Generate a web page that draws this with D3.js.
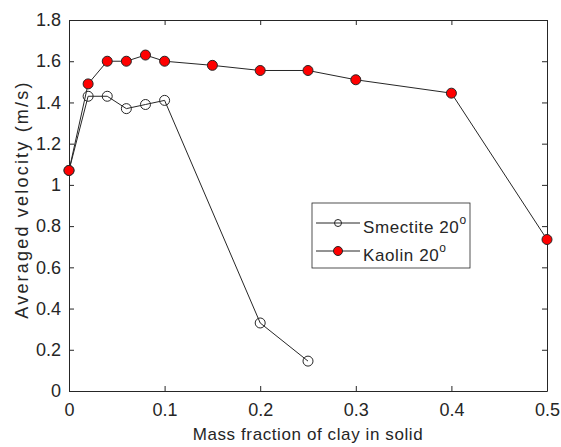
<!DOCTYPE html>
<html>
<head>
<meta charset="utf-8">
<script src="https://cdn.jsdelivr.net/npm/d3@7"></script>
<style>
  body { margin: 0; background: #fff; }
  text { font-family: "Liberation Sans", Arial, sans-serif; fill: #262626; }
</style>
</head>
<body>
<div id="chart"></div>
<script>
// data
const smectiteX = [0, 0.02, 0.04, 0.06, 0.08, 0.1, 0.2, 0.25];
const smectiteY = [1.07, 1.43, 1.43, 1.37, 1.39, 1.41, 0.33, 0.145];
const kaolinX = [0, 0.02, 0.04, 0.06, 0.08, 0.1, 0.15, 0.2, 0.25, 0.3, 0.4, 0.5];
const kaolinY = [1.07, 1.49, 1.60, 1.60, 1.63, 1.60, 1.58, 1.555, 1.555, 1.51, 1.445, 0.735];
const xTicks = [0, 0.1, 0.2, 0.3, 0.4, 0.5];
const yTicks = [0, 0.2, 0.4, 0.6, 0.8, 1, 1.2, 1.4, 1.6, 1.8];

const W = 561, H = 447;
const margin = {top: 20, right: 14, bottom: 56, left: 69};
const width = W - margin.left - margin.right;
const height = H - margin.top - margin.bottom;

const svg = d3.select("#chart").append("svg")
    .attr("width", W)
    .attr("height", H);

const g = svg.append("g")
    .attr("transform", `translate(${margin.left},${margin.top})`);

const x = d3.scaleLinear().domain([0, 0.5]).range([0, width]);
const y = d3.scaleLinear().domain([0, 1.8]).range([height, 0]);

const fmt = d => String(+d.toFixed(1));

// axes, ticks pointing inward like matlab
g.append("g")
    .attr("class", "x-axis")
    .attr("transform", `translate(0,${height})`)
    .call(d3.axisBottom(x).tickValues(xTicks).tickSizeInner(-5).tickSizeOuter(0).tickPadding(12).tickFormat(fmt));
g.append("g")
    .call(d3.axisTop(x).tickValues(xTicks).tickSizeInner(-5).tickSizeOuter(0).tickFormat(""));
g.append("g")
    .attr("class", "y-axis")
    .call(d3.axisLeft(y).tickValues(yTicks).tickSizeInner(-5).tickSizeOuter(0).tickPadding(8).tickFormat(fmt));
g.append("g")
    .attr("transform", `translate(${width},0)`)
    .call(d3.axisRight(y).tickValues(yTicks).tickSizeInner(-5).tickSizeOuter(0).tickFormat(""));

g.selectAll(".domain").attr("stroke", "#262626");
g.selectAll(".tick line").attr("stroke", "#262626");
g.selectAll(".tick text")
    .style("font-size", "18px")
    .style("font-family", "'Liberation Sans', Arial, sans-serif")
    .attr("fill", "#262626");

// axis titles
svg.append("text")
    .attr("x", margin.left + width / 2)
    .attr("y", 440)
    .attr("text-anchor", "middle")
    .style("font-size", "17px")
    .style("letter-spacing", "0.6px")
    .text("Mass fraction of clay in solid");

svg.append("text")
    .attr("transform", `translate(28,${margin.top + height / 2 - 6})rotate(-90)`)
    .attr("text-anchor", "middle")
    .style("font-size", "18px")
    .style("letter-spacing", "2.2px")
    .text("Averaged velocity (m/s)");

const line = d3.line().x(d => x(d[0])).y(d => y(d[1]));

const series = [
    {name: "Smectite 20", xs: smectiteX, ys: smectiteY, fill: "none", r: 3.5},
    {name: "Kaolin 20", xs: kaolinX, ys: kaolinY, fill: "#ff0000", r: 4.5}
];

series.forEach(s => {
    const pts = s.xs.map((v, i) => [v, s.ys[i]]);
    g.append("path")
        .datum(pts)
        .attr("d", line)
        .attr("fill", "none")
        .attr("stroke", "#262626")
        .attr("stroke-width", 1);
    g.selectAll(null)
        .data(pts)
        .enter().append("circle")
        .attr("cx", d => x(d[0]))
        .attr("cy", d => y(d[1]))
        .attr("r", 5)
        .attr("fill", s.fill)
        .attr("stroke", "#262626")
        .attr("stroke-width", 1);
});

// legend
const lg = svg.append("g").attr("transform", "translate(312,203)");
lg.append("rect")
    .attr("width", 158)
    .attr("height", 65)
    .attr("fill", "#fff")
    .attr("stroke", "#262626")
    .attr("stroke-width", 0.8);

series.forEach((s, i) => {
    const yy = 20 + i * 28;
    lg.append("line")
        .attr("x1", 4).attr("x2", 48)
        .attr("y1", yy).attr("y2", yy)
        .attr("stroke", "#262626");
    lg.append("circle")
        .attr("cx", 26).attr("cy", yy)
        .attr("r", s.r)
        .attr("fill", s.fill)
        .attr("stroke", "#262626");
    const t = lg.append("text")
        .attr("x", 51).attr("y", yy + 10)
        .style("font-size", "17px")
        .style("letter-spacing", "0.6px")
        .text(s.name);
    t.append("tspan")
        .attr("dy", -9)
        .style("font-size", "12px")
        .text("o");
});
</script>
</body>
</html>
